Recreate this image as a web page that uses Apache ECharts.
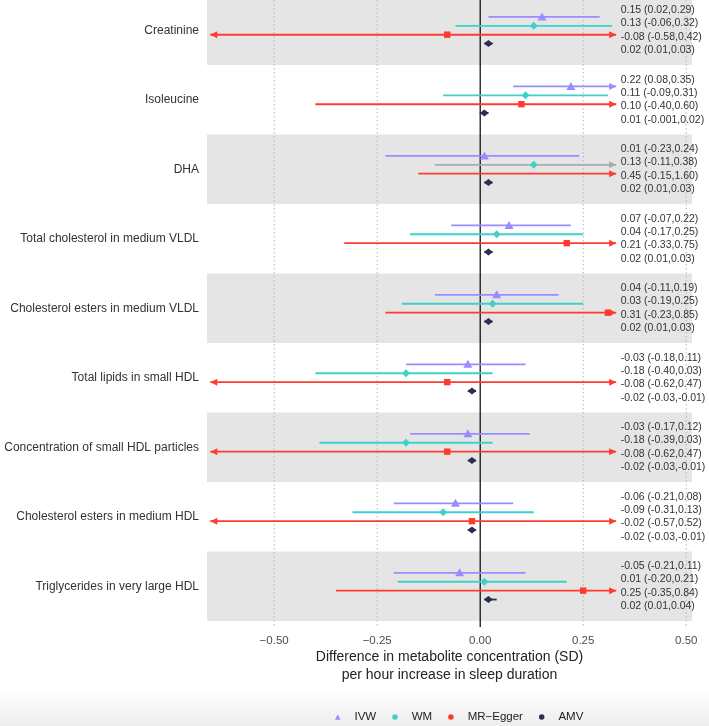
<!DOCTYPE html>
<html>
<head>
<meta charset="utf-8">
<title>MR forest plot</title>
<script src="https://cdn.jsdelivr.net/npm/echarts@6/dist/echarts.min.js"></script>
<style>
  html, body { margin: 0; padding: 0; background: #fff; }
  #main { width: 709px; height: 726px; }
</style>
</head>
<body>
<div id="main"></div>
<script>
// metabolites, top to bottom
var categories = [
    'Creatinine',
    'Isoleucine',
    'DHA',
    'Total cholesterol in medium VLDL',
    'Cholesterol esters in medium VLDL',
    'Total lipids in small HDL',
    'Concentration of small HDL particles',
    'Cholesterol esters in medium HDL',
    'Triglycerides in very large HDL'
];

var ivwEst = [0.15, 0.22, 0.01, 0.07, 0.04, -0.03, -0.03, -0.06, -0.05];
var ivwLo  = [0.02, 0.08, -0.23, -0.07, -0.11, -0.18, -0.17, -0.21, -0.21];
var ivwHi  = [0.29, 0.35, 0.24, 0.22, 0.19, 0.11, 0.12, 0.08, 0.11];

var wmEst = [0.13, 0.11, 0.13, 0.04, 0.03, -0.18, -0.18, -0.09, 0.01];
var wmLo  = [-0.06, -0.09, -0.11, -0.17, -0.19, -0.40, -0.39, -0.31, -0.20];
var wmHi  = [0.32, 0.31, 0.38, 0.25, 0.25, 0.03, 0.03, 0.13, 0.21];

var eggerEst = [-0.08, 0.10, 0.45, 0.21, 0.31, -0.08, -0.08, -0.02, 0.25];
var eggerLo  = [-0.58, -0.40, -0.15, -0.33, -0.23, -0.62, -0.62, -0.57, -0.35];
var eggerHi  = [0.42, 0.60, 1.60, 0.75, 0.85, 0.47, 0.47, 0.52, 0.84];

var amvEst = [0.02, 0.01, 0.02, 0.02, 0.02, -0.02, -0.02, -0.02, 0.02];
var amvLo  = [0.01, -0.001, 0.01, 0.01, 0.01, -0.03, -0.03, -0.03, 0.01];
var amvHi  = [0.03, 0.02, 0.03, 0.03, 0.03, -0.01, -0.01, -0.01, 0.04];

var tickValues = [-0.5, -0.25, 0, 0.25, 0.5];
var shadedRows = [0, 2, 4, 6, 8];

// drawing limits: intervals are cut here and get an arrow
var RIGHT_TIP = 0.33;
var LEFT_TIP = -0.655;
var LEFT_CUT = -0.5;
var LABEL_X = 0.341;
// the WM interval for DHA is drawn grey in the original
var greyLine = { method: 'WM', row: 2 };

var FONT = '"Liberation Sans", Arial, Helvetica, sans-serif';

var methods = [
    { name: 'IVW', est: ivwEst, lo: ivwLo, hi: ivwHi, color: '#9a8cff', shape: 'triangle', dy: -0.192, ty: -0.287, lw: 1.8 },
    { name: 'WM', est: wmEst, lo: wmLo, hi: wmHi, color: '#3fd0c8', shape: 'diamond', dy: -0.064, ty: -0.096, lw: 1.8 },
    { name: 'MR\u2212Egger', est: eggerEst, lo: eggerLo, hi: eggerHi, color: '#ff3b2f', shape: 'square', dy: 0.064, ty: 0.096, lw: 1.9 },
    { name: 'AMV', est: amvEst, lo: amvLo, hi: amvHi, color: '#27304f', shape: 'wide', dy: 0.192, ty: 0.287, lw: 1.8 }
];

function fmt(v) {
    if (v !== 0 && Math.abs(v) < 0.01) return v.toFixed(3);
    return v.toFixed(2);
}

function arrowHead(p, dir, color) {
    var x = p[0], y = p[1];
    return {
        type: 'polygon',
        shape: { points: [[x, y], [x - dir * 7, y - 3.5], [x - dir * 7, y + 3.5]] },
        style: { fill: color }
    };
}

function marker(shape, p, color) {
    var x = p[0], y = p[1];
    if (shape === 'triangle') {
        return { type: 'polygon', shape: { points: [[x, y - 4.5], [x - 4.5, y + 3.5], [x + 4.5, y + 3.5]] }, style: { fill: color } };
    }
    if (shape === 'diamond') {
        return { type: 'polygon', shape: { points: [[x, y - 4], [x + 4, y], [x, y + 4], [x - 4, y]] }, style: { fill: color } };
    }
    if (shape === 'square') {
        return { type: 'rect', shape: { x: x - 3.2, y: y - 3.2, width: 6.4, height: 6.4 }, style: { fill: color } };
    }
    return { type: 'polygon', shape: { points: [[x, y - 3.5], [x + 4.5, y], [x, y + 3.5], [x - 4.5, y]] }, style: { fill: color } };
}

function methodSeries(m) {
    return {
        type: 'custom',
        name: m.name,
        itemStyle: { color: m.color },
        z: 4,
        data: m.est.map(function (e, i) { return [e, m.lo[i], m.hi[i], i]; }),
        encode: { x: [0, 1, 2], y: 3 },
        renderItem: function (params, api) {
            var e = api.value(0), lo = api.value(1), hi = api.value(2), i = api.value(3);
            var y = i + m.dy;
            var loDraw = lo < LEFT_CUT ? LEFT_TIP : lo;
            var hiDraw = hi > RIGHT_TIP ? RIGHT_TIP : hi;
            var a = api.coord([loDraw, y]);
            var b = api.coord([hiDraw, y]);
            var lineColor = (m.name === greyLine.method && i === greyLine.row) ? '#ababab' : m.color;
            var children = [{
                type: 'line',
                shape: { x1: a[0], y1: a[1], x2: b[0], y2: b[1] },
                style: { stroke: lineColor, lineWidth: m.lw }
            }];
            if (lo < LEFT_CUT) children.push(arrowHead(a, -1, lineColor));
            if (hi > RIGHT_TIP) children.push(arrowHead(b, 1, lineColor));
            if (e <= RIGHT_TIP) children.push(marker(m.shape, api.coord([e, y]), m.color));
            var t = api.coord([LABEL_X, i + m.ty]);
            children.push({
                type: 'text',
                x: t[0], y: t[1],
                style: {
                    text: fmt(e) + ' (' + fmt(lo) + ',' + fmt(hi) + ')',
                    fill: '#333',
                    font: '10.5px ' + FONT,
                    textAlign: 'left',
                    textVerticalAlign: 'middle'
                }
            });
            return { type: 'group', children: children };
        }
    };
}

var chartDom = document.getElementById('main');
var myChart = echarts.init(chartDom, null, { renderer: 'canvas' });

var series = [
    {
        // grey bands behind every other row
        type: 'custom',
        name: 'bands',
        z: 1,
        silent: true,
        data: shadedRows.map(function (r) { return [0, r]; }),
        encode: { y: 1 },
        renderItem: function (params, api) {
            var cs = params.coordSys;
            var r = api.value(1);
            var top = api.coord([0, r - 0.5])[1];
            var bot = api.coord([0, r + 0.5])[1];
            var rect = echarts.graphic.clipRectByRect(
                { x: cs.x, y: top, width: cs.width, height: bot - top },
                { x: cs.x, y: cs.y, width: cs.width, height: cs.height }
            );
            return rect && { type: 'rect', shape: rect, style: { fill: '#e5e5e5' } };
        }
    },
    {
        // dotted grid + solid zero line
        type: 'custom',
        name: 'grid',
        z: 2,
        silent: true,
        data: tickValues.map(function (v) { return [v]; }),
        encode: { x: 0 },
        renderItem: function (params, api) {
            var cs = params.coordSys;
            var v = api.value(0);
            var x = api.coord([v, 0])[0];
            var zero = v === 0;
            return {
                type: 'line',
                shape: { x1: x, y1: cs.y, x2: x, y2: cs.y + cs.height },
                style: zero
                    ? { stroke: '#000', lineWidth: 1.2 }
                    : { stroke: '#b5b5b5', lineWidth: 1, lineDash: [1.5, 2.5] }
            };
        }
    },
    {
        // row labels left of the panel
        type: 'custom',
        name: 'rowLabels',
        z: 3,
        silent: true,
        data: categories.map(function (c, i) { return [0, i]; }),
        encode: { y: 1 },
        renderItem: function (params, api) {
            var cs = params.coordSys;
            var i = api.value(1);
            var y = api.coord([0, i])[1];
            return {
                type: 'text',
                x: cs.x - 8, y: y,
                style: {
                    text: categories[i],
                    fill: '#333',
                    font: '12px ' + FONT,
                    textAlign: 'right',
                    textVerticalAlign: 'middle'
                }
            };
        }
    }
].concat(methods.map(methodSeries));

var option = {
    animation: false,
    backgroundColor: '#fff',
    graphic: [
        {
            type: 'rect',
            z: -10,
            silent: true,
            shape: { x: 0, y: 688, width: 709, height: 38 },
            style: {
                fill: new echarts.graphic.LinearGradient(0, 0, 0, 1, [
                    { offset: 0, color: '#ffffff' },
                    { offset: 1, color: '#ededed' }
                ])
            }
        },
        {
            type: 'text',
            x: 449.5, y: 666,
            style: {
                text: 'Difference in metabolite concentration (SD)\nper hour increase in sleep duration',
                fill: '#222',
                font: '14px ' + FONT,
                lineHeight: 18,
                textAlign: 'center',
                textVerticalAlign: 'middle'
            }
        }
    ],
    grid: {
        left: 207,
        right: 17,
        top: 0,
        height: 627
    },
    xAxis: {
        type: 'value',
        min: -0.663,
        max: 0.514,
        splitLine: { show: false },
        axisLine: { show: false },
        axisTick: { show: false },
        axisLabel: {
            customValues: tickValues,
            margin: 8,
            color: '#4d4d4d',
            fontSize: 11.5,
            fontFamily: FONT,
            formatter: function (v) {
                return (v < 0 ? '\u2212' : '') + Math.abs(v).toFixed(2);
            }
        }
    },
    yAxis: {
        type: 'value',
        min: -0.435,
        max: 8.587,
        inverse: true,
        show: false
    },
    legend: {
        left: 330,
        top: 706,
        itemWidth: 5.5,
        itemHeight: 5.5,
        itemGap: 16,
        symbolKeepAspect: true,
        textStyle: { color: '#222', fontSize: 11.5, fontFamily: FONT, padding: [0, 0, 0, 9] },
        data: [
            { name: 'IVW', icon: 'triangle' },
            { name: 'WM', icon: 'circle' },
            { name: 'MR\u2212Egger', icon: 'circle' },
            { name: 'AMV', icon: 'circle' }
        ]
    },
    series: series
};

myChart.setOption(option);
window.addEventListener('resize', myChart.resize);
</script>
</body>
</html>
